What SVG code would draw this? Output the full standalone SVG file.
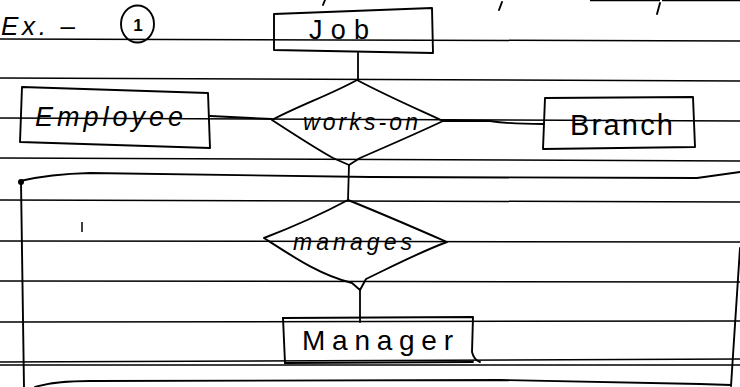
<svg xmlns="http://www.w3.org/2000/svg" width="740" height="387" viewBox="0 0 740 387">
<style>
.rule{stroke:#000;stroke-width:1.5;fill:none}
.shape{stroke:#000;stroke-width:1.9;fill:none;stroke-linejoin:round;stroke-linecap:round}
.conn{stroke:#000;stroke-width:1.8;fill:none;stroke-linecap:round}
.lbl{font-family:"Liberation Sans",Arial,sans-serif;fill:#000}
.it{font-style:italic}
</style>
<rect x="0" y="0" width="740" height="387" fill="#fff"/>
<g id="paper">
<path class="rule" d="M0 39 L740 41"/>
<path class="rule" d="M0 78 L740 81"/>
<path class="rule" d="M0 118 L740 121"/>
<path class="rule" d="M0 158 L740 161"/>
<path class="rule" d="M0 200 L740 202"/>
<path class="rule" d="M0 241 L740 242"/>
<path class="rule" d="M0 281 L740 282"/>
<path class="rule" d="M0 322 L740 321"/>
<path class="rule" d="M0 362 L740 359"/>
<path class="rule" d="M0 365 L740 365"/>
<path class="shape" d="M20 181 Q50 174 90 173 L370 177 L697 178 L740 172"/>
<path class="shape" d="M35 387 Q55 381 90 381 L500 380 L700 384 L731 385"/>
<path class="shape" d="M21 182 L24 387"/>
<path class="shape" d="M740 248 L731 386"/>
<circle cx="21" cy="182" r="3" fill="#000"/>
<path class="rule" d="M590 0.5 L660 0.5" stroke="#aaa"/>
<path class="rule" d="M662 0.5 L740 0.5"/>
<path class="shape" d="M325 0 L323 5"/>
<path class="shape" d="M502 2 L499 10"/>
<path class="shape" d="M660 3 L657 14"/>
<path class="rule" d="M82 222 L82 232" stroke-width="1"/>
<text class="lbl it" x="1" y="35" font-size="26" textLength="74" lengthAdjust="spacing">Ex. –</text>
<ellipse class="shape" cx="137.5" cy="24" rx="16.5" ry="18.5" stroke-width="2.2"/>
<text class="lbl" x="138" y="31" font-size="17" text-anchor="middle" font-weight="bold">1</text>
</g>
<g id="connectors">
<path class="conn" d="M210 116 L272 119"/>
<path class="conn" d="M443 121 L490 121 Q510 124 543 124"/>
<path class="conn" d="M358 53 L358 80"/>
<path class="conn" d="M349 165 L348 200"/>
<path class="conn" d="M360 289 L360 322"/>
</g>
<g id="node-job">
<path class="shape" d="M274 14 L432 8 L433 53 L274 50 Z"/>
<text class="lbl" x="309" y="39" font-size="27" textLength="60" lengthAdjust="spacing">Job</text>
</g>
<g id="node-employee">
<path class="shape" d="M22 87 L208 93 L210 148 L20 142 Z"/>
<text class="lbl it" x="35" y="126" font-size="27" textLength="148" lengthAdjust="spacing">Employee</text>
</g>
<g id="node-works-on">
<path class="shape" d="M357 80 C330 95 300 105 272 120 C295 135 315 148 333 158 L349 165 L360 158 C390 145 420 132 443 121 C415 108 385 95 357 80 Z"/>
<text class="lbl it" x="303" y="130" font-size="23" textLength="115" lengthAdjust="spacing">works-on</text>
</g>
<g id="node-branch">
<path class="shape" d="M545 98 L693 97 L695 147 L543 149 Z"/>
<text class="lbl" x="570" y="135" font-size="29" textLength="103" lengthAdjust="spacing">Branch</text>
</g>
<g id="node-manages">
<path class="shape" d="M348 200 C320 215 290 228 264 238 C295 258 320 275 352 283 L360 290 L366 279 C395 265 420 252 447 242 C415 228 380 213 348 200 Z"/>
<text class="lbl it" x="293" y="250" font-size="23" textLength="119" lengthAdjust="spacing">manages</text>
</g>
<g id="node-manager">
<path class="shape" d="M283 318 L473 317 L472 352 Q474 360 480 362 M473 362 L285 363 Z"/>
<path class="shape" d="M283 318 L285 363"/>
<text class="lbl" x="302" y="350" font-size="28" textLength="151" lengthAdjust="spacing">Manager</text>
</g>
</svg>
